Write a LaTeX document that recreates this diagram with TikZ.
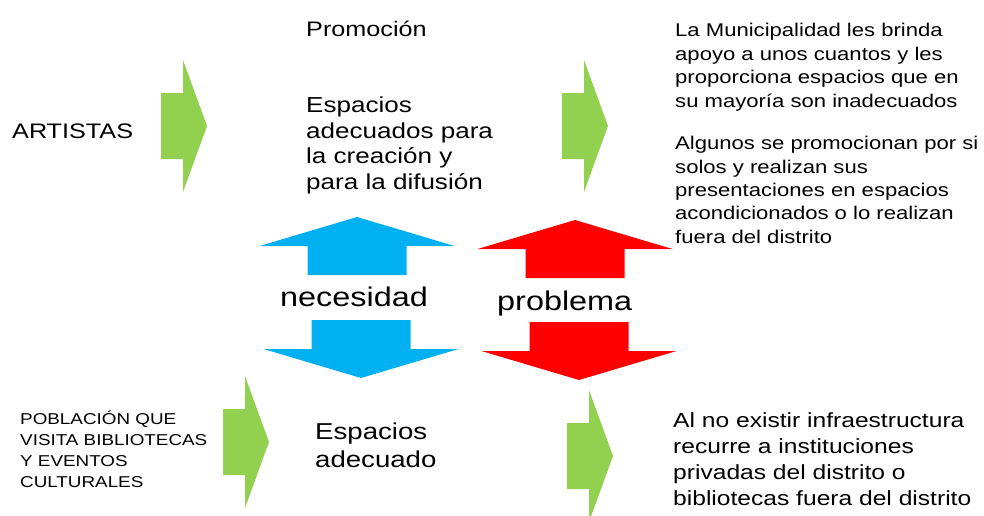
\documentclass[tikz,border=0pt]{standalone}
\usepackage{fontspec}
\setmainfont{Liberation Sans}[FakeStretch=1.2]
\definecolor{arrgreen}{HTML}{92D050}
\definecolor{arrblue}{HTML}{00B0F0}
\definecolor{arrred}{HTML}{FF0000}

\begin{document}
\begin{tikzpicture}[x=1pt,y=-1pt,
  txt/.style={anchor=base west,align=left,inner sep=0pt},
  rblock/.pic={\path[pic actions] (0,-33) -- (22,-33) -- (22,-66) -- (46,0) -- (22,66) -- (22,33) -- (0,33) -- cycle;},
  vblock/.pic={\path[pic actions] (0,0) -- (97.5,29) -- (49.5,29) -- (49.5,58) -- (-49.5,58) -- (-49.5,29) -- (-97.5,29) -- cycle;}]
\useasboundingbox (0,0) rectangle (984,515);
% green arrows
\pic[fill=arrgreen] at (161,126) {rblock};
\pic[fill=arrgreen] at (562,126) {rblock};
\pic[fill=arrgreen] at (223,442) {rblock};
\pic[fill=arrgreen] at (567,456) {rblock};
% need / problem arrows
\pic[fill=arrblue] at (357,217) {vblock};
\pic[fill=arrblue,yscale=-1] at (361,378) {vblock};
\pic[fill=arrred] at (575,220) {vblock};
\pic[fill=arrred,yscale=-1] at (579,380) {vblock};
% texts (base = last line)
\node[txt,font=\fontsize{21}{25}\selectfont] (art) at (12,138) {ARTISTAS};
\node[txt,font=\fontsize{21}{25}\selectfont] (prom) at (306,36) {Promoción};
\node[txt,font=\fontsize{21.7}{25.5}\selectfont] (espac) at (306,189)
  {Espacios\\adecuados para\\la creación y\\para la difusión};
\node[txt,font=\fontsize{18.4}{23.5}\selectfont] (muni) at (675,107)
  {La Municipalidad les brinda\\apoyo a unos cuantos y les\\proporciona espacios que en\\su mayoría son inadecuados};
\node[txt,font=\fontsize{18.4}{23.3}\selectfont] (algun) at (675,243)
  {Algunos se promocionan por si\\solos y realizan sus\\presentaciones en espacios\\acondicionados o lo realizan\\fuera del distrito};
\node[txt,font=\fontsize{27}{32}\selectfont] (nec) at (280,306.7) {necesidad};
\node[txt,font=\fontsize{27}{32}\selectfont] (prob) at (497,310) {problema};
\node[txt,font=\fontsize{15.7}{21}\selectfont] (pobl) at (20,487)
  {POBLACIÓN QUE\\VISITA BIBLIOTECAS\\Y EVENTOS\\CULTURALES};
\node[txt,font=\fontsize{23}{28}\selectfont] (adec) at (315,467) {Espacios\\adecuado};
\node[txt,font=\fontsize{20.5}{26}\selectfont] (infra) at (673,505)
  {Al no existir infraestructura\\recurre a instituciones\\privadas del distrito o\\bibliotecas fuera del distrito};
\end{tikzpicture}
\end{document}
